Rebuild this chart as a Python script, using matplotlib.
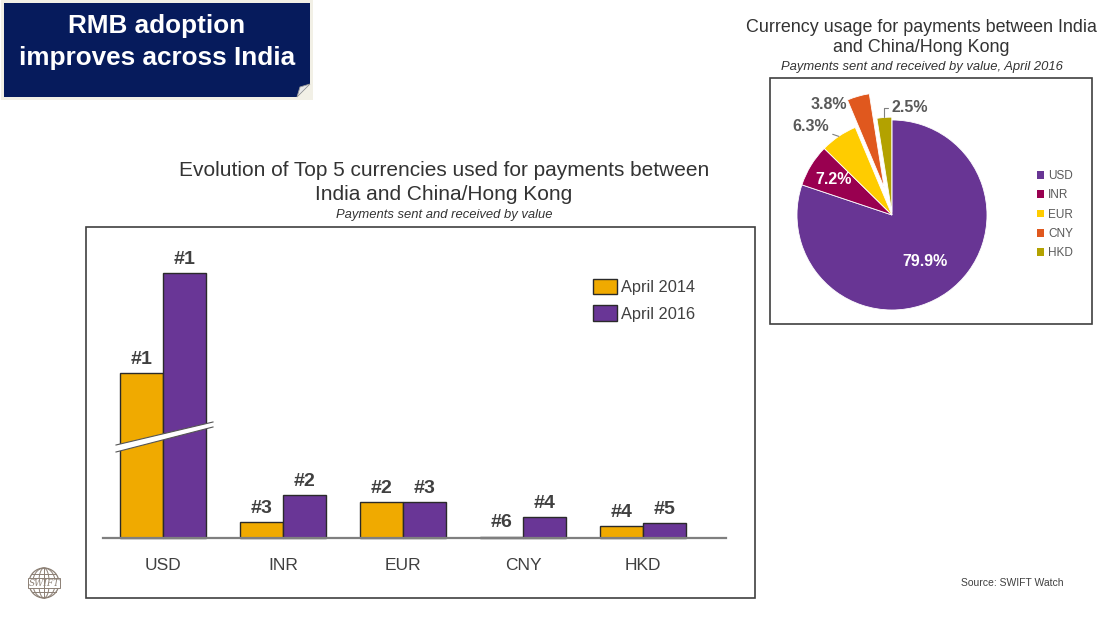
import matplotlib
matplotlib.use("Agg")
import matplotlib.pyplot as plt
from matplotlib.patches import Rectangle, Polygon, Patch, Circle, Ellipse
import numpy as np

plt.rcParams['font.family'] = ['Liberation Sans', 'DejaVu Sans']

# ---------------- data ----------------
categories = ["USD", "INR", "EUR", "CNY", "HKD"]
series_names = ["April 2014", "April 2016"]
values_2014 = [165, 16, 36, 1.5, 12]     # displayed heights (USD axis broken)
values_2016 = [265, 43, 36, 21, 15]
ranks_2014 = ["#1", "#3", "#2", "#6", "#4"]
ranks_2016 = ["#1", "#2", "#3", "#4", "#5"]

pie_labels = ["USD", "INR", "EUR", "CNY", "HKD"]
pie_values = [79.9, 7.2, 6.3, 3.8, 2.5]

# ---------------- styles ----------------
W, H = 1107, 622
C14 = "#F0AA00"
C16 = "#693696"
PIE_COLORS = ["#683594", "#990050", "#FFCC00", "#E0581E", "#B3A200"]
NAVY = "#061B5C"
TXT = "#404040"

fig = plt.figure(figsize=(W / 100, H / 100), dpi=100)
fig.patch.set_facecolor("white")


def rect(x0, y0, x1, y1):
    return [x0 / W, 1 - y1 / H, (x1 - x0) / W, (y1 - y0) / H]


# ---------------- overlay (pixel coords) ----------------
ov = fig.add_axes([0, 0, 1, 1])
ov.set_xlim(0, W)
ov.set_ylim(H, 0)
ov.axis("off")

# title box
ov.add_patch(Rectangle((1, 0), 312, 100, fc="#F2F0E6", ec="none"))
ov.add_patch(Polygon([(4, 3), (310, 3), (310, 84), (297, 97), (4, 97)],
                     closed=True, fc=NAVY, ec="none"))
ov.add_patch(Polygon([(297, 97), (310, 84), (300, 87)], closed=True,
                     fc="#E8E8E8", ec="#9A9A9A", lw=0.6))
ov.text(157, 26, "RMB adoption", color="white", fontsize=18.8,
        fontweight="bold", ha="center", va="center")
ov.text(157, 58, "improves across India", color="white", fontsize=18.8,
        fontweight="bold", ha="center", va="center")

# panel boxes
ov.add_patch(Rectangle((86, 227), 669, 371, fill=False, ec="#404040", lw=1.2))
ov.add_patch(Rectangle((770, 78), 322, 246, fill=False, ec="#404040", lw=1.2))

# bar chart titles
ov.text(444, 171, "Evolution of Top 5 currencies used for payments between",
        fontsize=15, color="#333333", ha="center", va="center")
ov.text(444, 195, "India and China/Hong Kong",
        fontsize=15, color="#333333", ha="center", va="center")
ov.text(444, 215, "Payments sent and received by value",
        fontsize=9.4, color="#333333", ha="center", va="center", style="italic")

# pie titles
ov.text(921, 27, "Currency usage for payments between India",
        fontsize=12.9, color="#333333", ha="center", va="center")
ov.text(921, 48, "and China/Hong Kong",
        fontsize=12.9, color="#333333", ha="center", va="center")
ov.text(922, 67, "Payments sent and received by value, April 2016",
        fontsize=9.4, color="#333333", ha="center", va="center", style="italic")

# source
ov.text(1012, 583, "Source: SWIFT Watch", fontsize=7.5, color="#404040",
        ha="center", va="center")

# SWIFT logo
lc = "#8C8075"
cx, cy, r = 44, 583, 15
ov.add_patch(Circle((cx, cy), r, fill=False, ec=lc, lw=0.9))
for k in (0.35, 0.75):
    ov.add_patch(Ellipse((cx, cy), 2 * r * k, 2 * r, fill=False, ec=lc, lw=0.7))
ov.plot([cx, cx], [cy - r, cy + r], color=lc, lw=0.7)
for dy in (-9, 9):
    hw = np.sqrt(r ** 2 - dy ** 2)
    ov.plot([cx - hw, cx + hw], [cy + dy, cy + dy], color=lc, lw=0.7)
ov.add_patch(Rectangle((cx - 16, cy - 5), 32, 10, fc="white", ec=lc, lw=0.7))
ov.text(cx, cy + 0.5, "SWIFT", fontsize=6.5, color=lc, ha="center", va="center",
        style="italic", family="DejaVu Serif")

# ---------------- bar chart ----------------
ax = fig.add_axes(rect(86, 227, 755, 598))
ax.set_facecolor("none")
ax.axis("off")
ax.set_xlim((86 - 163) / 120, (755 - 163) / 120)
ax.set_ylim(-60, 311)

x = np.arange(len(categories))
bw = 43 / 120
b14 = ax.bar(x - bw / 2, values_2014, bw, color=C14, edgecolor="#2a2a2a", lw=1, zorder=2)
b16 = ax.bar(x + bw / 2, values_2016, bw, color=C16, edgecolor="#2a2a2a", lw=1, zorder=2)

ax.plot([(103 - 163) / 120, (726 - 163) / 120], [0, 0], color="#7F7F7F", lw=1.6, zorder=3)

for bars, ranks in ((b14, ranks_2014), (b16, ranks_2016)):
    for b, rk in zip(bars, ranks):
        ax.annotate(rk, (b.get_x() + b.get_width() / 2, b.get_height()),
                    xytext=(0, 6.5), textcoords="offset points",
                    ha="center", va="baseline", fontsize=14, fontweight="bold",
                    color=TXT)

for i, c in enumerate(categories):
    ax.text(i, -27, c, ha="center", va="center", fontsize=12.5, color=TXT)

# axis-break band across the USD bars
xl, xr = (116 - 163) / 120, (213 - 163) / 120
top_l, top_r = 93, 116
bot_l, bot_r = 86, 111
ax.add_patch(Polygon([(xl, bot_l), (xr, bot_r), (xr, top_r), (xl, top_l)],
                     closed=True, fc="white", ec="none", zorder=4))
ax.plot([xl, xr], [top_l, top_r], color="#555555", lw=0.8, zorder=5)
ax.plot([xl, xr], [bot_l, bot_r], color="#555555", lw=0.8, zorder=5)

handles = [Patch(fc=C14, ec="#2a2a2a", lw=1), Patch(fc=C16, ec="#2a2a2a", lw=1)]
fig.legend(handles, series_names, loc="upper left",
           bbox_to_anchor=(593 / W, 1 - 279 / H), frameon=False,
           fontsize=11.8, handlelength=1.45, handleheight=1.05,
           handletextpad=0.25, labelspacing=0.62, borderpad=0,
           borderaxespad=0, labelcolor=TXT)

# ---------------- pie chart ----------------
R = 95
pcx, pcy = 892, 215
pax = fig.add_axes(rect(pcx - 1.5 * R, pcy - 1.5 * R, pcx + 1.5 * R, pcy + 1.5 * R))
pax.set_facecolor("none")
wedges, _ = pax.pie(pie_values, colors=PIE_COLORS, startangle=90,
                    counterclock=False, explode=[0, 0, 0, 0.3, 0.03],
                    wedgeprops=dict(edgecolor="white", linewidth=0.6))
pax.set_xlim(-1.5, 1.5)
pax.set_ylim(-1.5, 1.5)
pax.set_aspect("equal")
pax.axis("off")


def mid(w):
    return np.deg2rad((w.theta1 + w.theta2) / 2)


for idx, rr in ((0, 0.6), (1, 0.72)):
    a = mid(wedges[idx])
    pax.text(rr * np.cos(a), rr * np.sin(a), f"{pie_values[idx]:.1f}%",
             ha="center", va="center", fontsize=11.5, fontweight="bold", color="white")

LBL = "#595959"
a = mid(wedges[2])
pax.annotate(f"{pie_values[2]:.1f}%", (np.cos(a), np.sin(a)),
             xytext=(-0.86, 0.93), ha="center", va="center", fontsize=11.5,
             fontweight="bold", color=LBL,
             arrowprops=dict(arrowstyle="-", color="#7F7F7F", lw=0.8,
                             shrinkA=1, shrinkB=0))
pax.text(-0.67, 1.16, f"{pie_values[3]:.1f}%", ha="center", va="center",
         fontsize=11.5, fontweight="bold", color=LBL)
a = mid(wedges[4])
pax.annotate(f"{pie_values[4]:.1f}%", (1.02 * np.cos(a), 1.02 * np.sin(a) + 0.01),
             xytext=(0.19, 1.13), ha="center", va="center", fontsize=11.5,
             fontweight="bold", color=LBL,
             arrowprops=dict(arrowstyle="-", color="#7F7F7F", lw=0.8,
                             shrinkA=1, shrinkB=0,
                             connectionstyle="angle,angleA=0,angleB=90,rad=0"))

phandles = [Patch(fc=c, ec="none") for c in PIE_COLORS]
fig.legend(phandles, pie_labels, loc="upper left",
           bbox_to_anchor=(1037 / W, 1 - 170 / H), frameon=False,
           fontsize=8.5, handlelength=0.6, handleheight=0.6,
           handletextpad=0.35, labelspacing=0.62, borderpad=0,
           borderaxespad=0, labelcolor=LBL)

fig.savefig("out.png", dpi=100)
